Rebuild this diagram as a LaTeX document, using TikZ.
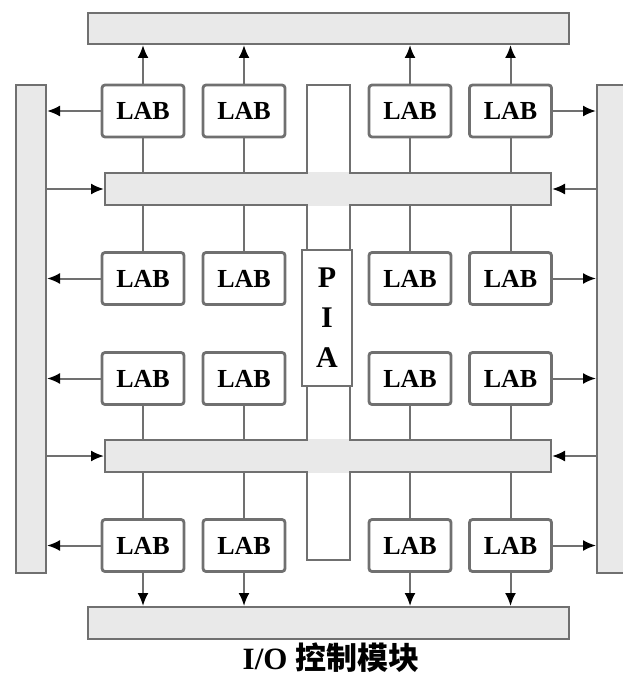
\documentclass[tikz,border=0pt]{standalone}
\usepackage{fontspec}
\setmainfont{Liberation Serif}
\newfontfamily\cjk{Noto Sans CJK SC}
\usepackage{xcolor}
\usetikzlibrary{positioning,arrows.meta,calc}
\definecolor{linegray}{HTML}{707070}
\definecolor{barfill}{HTML}{E9E9E9}

\begin{document}
\begin{tikzpicture}[x=1pt, y=-1pt,
    bar/.style={draw=linegray, fill=barfill, line width=2pt, inner sep=0pt, outer sep=0pt},
    lab/.style={draw=linegray, fill=white, line width=2.8pt, rounded corners=3pt,
        minimum width=82pt, minimum height=52pt, inner sep=0pt, outer sep=0pt,
        font=\fontsize{26}{26}\selectfont\bfseries},
    wire/.style={draw=linegray, line width=2pt},
    arr/.style={wire, shorten >=1pt, -{Latex[length=13pt, width=11pt, color=black]}}]

    \useasboundingbox (0,0) rectangle (623,677);

    % I/O bars
    \node[bar, minimum width=481pt, minimum height=31pt] (top) at (328.5,28.5) {};
    \node[bar, minimum width=481pt, minimum height=32pt] (bot) at (328.5,623) {};
    \node[bar, minimum width=30pt, minimum height=488pt] (left) at (31,329) {};
    \node[bar, minimum width=40pt, minimum height=488pt] (right) at (617,329) {};

    % PIA and the two buses
    \node[bar, fill=white, minimum width=43pt, minimum height=475pt] (pia) at (328.5,322.5) {};
    \node[bar, minimum width=446pt, minimum height=32pt] (bus1) at (328,189) {};
    \node[bar, minimum width=446pt, minimum height=32pt] (bus2) at (328,456) {};
    \fill[barfill] ($(pia.west |- bus1.north)+(1,-1.05)$) rectangle ($(pia.east |- bus1.south)+(-1,1.05)$);
    \fill[barfill] ($(pia.west |- bus2.north)+(1,-1.05)$) rectangle ($(pia.east |- bus2.south)+(-1,1.05)$);
    \node[bar, fill=white, minimum width=50pt, minimum height=136pt, align=center,
        font=\fontsize{30}{40}\selectfont\bfseries] (pialab) at (327,317.5) {P\\I\\A};

    % LABs
    \node[lab] (l11) at (143,111) {LAB};
    \node[lab] (l12) at (244,111) {LAB};
    \node[lab] (l13) at (410,111) {LAB};
    \node[lab] (l14) at (510.5,111) {LAB};
    \node[lab] (l21) at (143,278.5) {LAB};
    \node[lab] (l22) at (244,278.5) {LAB};
    \node[lab] (l23) at (410,278.5) {LAB};
    \node[lab] (l24) at (510.5,278.5) {LAB};
    \node[lab] (l31) at (143,378.5) {LAB};
    \node[lab] (l32) at (244,378.5) {LAB};
    \node[lab] (l33) at (410,378.5) {LAB};
    \node[lab] (l34) at (510.5,378.5) {LAB};
    \node[lab] (l41) at (143,545.5) {LAB};
    \node[lab] (l42) at (244,545.5) {LAB};
    \node[lab] (l43) at (410,545.5) {LAB};
    \node[lab] (l44) at (510.5,545.5) {LAB};

    % wires to the buses and arrows to the I/O bars
    \foreach \c in {1,...,4} {
        \draw[wire] (l1\c.south) -- (l1\c.south |- bus1.north);
        \draw[wire] (l2\c.north) -- (l2\c.north |- bus1.south);
        \draw[wire] (l3\c.south) -- (l3\c.south |- bus2.north);
        \draw[wire] (l4\c.north) -- (l4\c.north |- bus2.south);
        \draw[arr] (l1\c.north) -- (l1\c.north |- top.south);
        \draw[arr] (l4\c.south) -- (l4\c.south |- bot.north);
    }
    \foreach \r in {1,...,4} {
        \draw[arr] (l\r1.west) -- (l\r1.west -| left.east);
        \draw[arr] (l\r4.east) -- (l\r4.east -| right.west);
    }
    \draw[arr] (bus1.west -| left.east) -- (bus1.west);
    \draw[arr] (bus2.west -| left.east) -- (bus2.west);
    \draw[arr] (bus1.east -| right.west) -- (bus1.east);
    \draw[arr] (bus2.east -| right.west) -- (bus2.east);

    \node[anchor=base, font=\fontsize{31}{31}\selectfont\bfseries] (title) at (331,669) {I/O {\cjk\bfseries 控制模块}};
\end{tikzpicture}
\end{document}
